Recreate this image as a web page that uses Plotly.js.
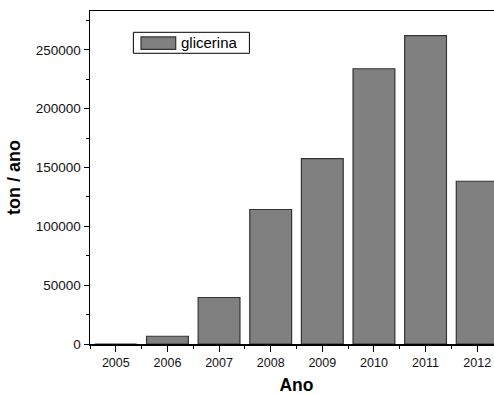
<!DOCTYPE html>
<html>
<head>
<meta charset="utf-8">
<script src="https://cdn.plot.ly/plotly-3.0.1.min.js"></script>
<style>
html, body { margin: 0; padding: 0; overflow: hidden; background: #fff; }
#chart { width: 503px; height: 395px; }
</style>
</head>
<body>
<div id="chart"></div>
<script>
const years = [2005, 2006, 2007, 2008, 2009, 2010, 2011, 2012];
const glicerina = [0, 6600, 39500, 114300, 157500, 233900, 262100, 138300];
const seriesName = "glicerina";
const yTicks = [0, 50000, 100000, 150000, 200000, 250000];
const xTitle = "Ano";
const yTitle = "ton / ano";

const FONT = "Arial, 'Liberation Sans', sans-serif";

const trace = {
  type: "bar",
  x: years,
  y: glicerina,
  name: seriesName,
  width: 0.81,
  marker: { color: "#808080", line: { color: "#333333", width: 1.2 } },
  showlegend: false
};

const layout = {
  width: 503,
  height: 395,
  margin: { l: 90, r: 0, t: 11, b: 50.5 },
  paper_bgcolor: "#ffffff",
  plot_bgcolor: "#ffffff",
  font: { family: FONT, size: 12, color: "#000" },
  showlegend: false,
  xaxis: {
    range: [2004.5, 2012.5],
    tickmode: "array",
    tickvals: years,
    ticktext: years.map(String),
    ticks: "outside",
    ticklen: 6,
    tickwidth: 1,
    tickcolor: "#000",
    showline: true,
    linecolor: "#000",
    linewidth: 1.5,
    mirror: true,
    showgrid: false,
    zeroline: false,
    tickfont: { family: FONT, size: 12.5, color: "#111" },
    minor: { tickmode: "linear", tick0: 2004.5, dtick: 1, ticks: "outside", ticklen: 3, tickcolor: "#000", showgrid: false },
    title: { text: xTitle, font: { family: FONT, size: 17.5, color: "#000", weight: "bold" }, standoff: 11 },
    automargin: false
  },
  yaxis: {
    range: [0, 283000],
    tickmode: "array",
    tickvals: yTicks,
    ticktext: yTicks.map(String),
    ticks: "outside",
    ticklen: 5,
    tickwidth: 1,
    tickcolor: "#000",
    showline: true,
    linecolor: "#000",
    linewidth: 1.5,
    mirror: true,
    showgrid: false,
    zeroline: false,
    tickfont: { family: FONT, size: 13.5, color: "#111" },
    minor: { tickmode: "linear", tick0: 0, dtick: 25000, ticks: "outside", ticklen: 3, tickcolor: "#000", showgrid: false },
    title: { text: yTitle, font: { family: FONT, size: 18, color: "#000", weight: "bold" }, standoff: 10 },
    automargin: false
  },
  shapes: [
    { type: "rect", xref: "paper", yref: "paper", x0: 0.105, x1: 0.386, y0: 0.873, y1: 0.936,
      line: { color: "#000", width: 1 }, fillcolor: "#ffffff" },
    { type: "rect", xref: "paper", yref: "paper", x0: 0.1235, x1: 0.2075, y0: 0.885, y1: 0.922,
      line: { color: "#333", width: 1.2 }, fillcolor: "#808080" }
  ],
  annotations: [
    { xref: "paper", yref: "paper", x: 0.216, y: 0.905, xanchor: "left", yanchor: "middle",
      text: seriesName, showarrow: false, font: { family: FONT, size: 15, color: "#000" } }
  ]
};

Plotly.newPlot("chart", [trace], layout, { staticPlot: true, displayModeBar: false });
</script>
</body>
</html>
